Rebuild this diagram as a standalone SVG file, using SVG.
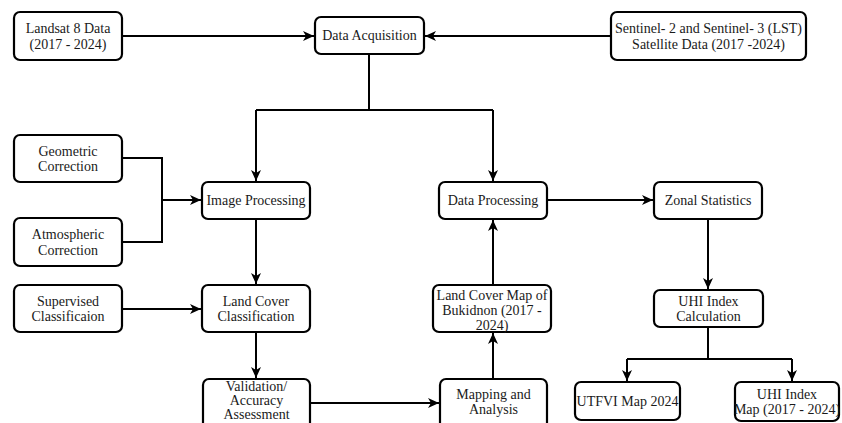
<svg xmlns="http://www.w3.org/2000/svg" width="842" height="423" viewBox="0 0 842 423">
<style>
.box{fill:#fff;stroke:#000;stroke-width:2.2}
.t{font-family:"Liberation Serif","Times New Roman",serif;font-size:14px;fill:#1a1a1a;text-anchor:middle}
.c{fill:none;stroke:#000;stroke-width:2}
</style>
<defs>
<marker id="ah" markerUnits="userSpaceOnUse" markerWidth="12" markerHeight="10" refX="11" refY="5" orient="auto">
<path d="M0,0 L11,5 L0,10 L3,5 z" fill="#000"/>
</marker>
</defs>
<rect width="842" height="423" fill="#fff"/>
<g id="connectors">
<path class="c" d="M122,36 H314" marker-end="url(#ah)"/>
<path class="c" d="M611,36 H425" marker-end="url(#ah)"/>
<path class="c" d="M369,54 V110"/>
<path class="c" d="M256,110 H493"/>
<path class="c" d="M256,110 V181" marker-end="url(#ah)"/>
<path class="c" d="M493,110 V181" marker-end="url(#ah)"/>
<path class="c" d="M122,158 H162 V242 H122"/>
<path class="c" d="M162,200 H201" marker-end="url(#ah)"/>
<path class="c" d="M256,219 V284" marker-end="url(#ah)"/>
<path class="c" d="M122,309 H201" marker-end="url(#ah)"/>
<path class="c" d="M256,332 V378" marker-end="url(#ah)"/>
<path class="c" d="M310,403 H439" marker-end="url(#ah)"/>
<path class="c" d="M493,379 V333" marker-end="url(#ah)"/>
<path class="c" d="M493,285 V220" marker-end="url(#ah)"/>
<path class="c" d="M547,200 H653" marker-end="url(#ah)"/>
<path class="c" d="M708,219 V289" marker-end="url(#ah)"/>
<path class="c" d="M708,327 V359"/>
<path class="c" d="M627,359 H792"/>
<path class="c" d="M627,359 V381" marker-end="url(#ah)"/>
<path class="c" d="M792,359 V381" marker-end="url(#ah)"/>
</g>
<g id="landsat">
<rect class="box" x="14" y="12" width="108" height="48" rx="6"/>
<text class="t" x="68" y="33">Landsat 8 Data</text>
<text class="t" x="68" y="49">(2017 - 2024)</text>
</g>
<g id="data-acquisition">
<rect class="box" x="315" y="17" width="109" height="37" rx="6"/>
<text class="t" x="369.5" y="40">Data Acquisition</text>
</g>
<g id="sentinel">
<rect class="box" x="611" y="12" width="195" height="48" rx="6"/>
<text class="t" x="708.5" y="33">Sentinel- 2 and Sentinel- 3 (LST)</text>
<text class="t" x="708.5" y="49">Satellite Data (2017 -2024)</text>
</g>
<g id="geometric">
<rect class="box" x="14" y="135" width="108" height="47" rx="6"/>
<text class="t" x="68" y="156">Geometric</text>
<text class="t" x="68" y="171">Correction</text>
</g>
<g id="atmospheric">
<rect class="box" x="14" y="218" width="108" height="48" rx="6"/>
<text class="t" x="68" y="239">Atmospheric</text>
<text class="t" x="68" y="255">Correction</text>
</g>
<g id="image-processing">
<rect class="box" x="202" y="182" width="108" height="37" rx="6"/>
<text class="t" x="256" y="205">Image Processing</text>
</g>
<g id="data-processing">
<rect class="box" x="439" y="182" width="108" height="37" rx="6"/>
<text class="t" x="493" y="205">Data Processing</text>
</g>
<g id="zonal-statistics">
<rect class="box" x="654" y="182" width="108" height="37" rx="6"/>
<text class="t" x="708" y="205">Zonal Statistics</text>
</g>
<g id="supervised">
<rect class="box" x="14" y="285" width="108" height="47" rx="6"/>
<text class="t" x="68" y="306">Supervised</text>
<text class="t" x="68" y="321">Classificaion</text>
</g>
<g id="land-cover-classification">
<rect class="box" x="202" y="285" width="108" height="47" rx="6"/>
<text class="t" x="256" y="306">Land Cover</text>
<text class="t" x="256" y="321">Classification</text>
</g>
<g id="land-cover-map">
<rect class="box" x="433" y="285" width="118" height="47" rx="6"/>
<text class="t" x="492" y="300">Land Cover Map of</text>
<text class="t" x="492" y="315">Bukidnon (2017 -</text>
<text class="t" x="492" y="330">2024)</text>
</g>
<g id="uhi-calculation">
<rect class="box" x="654" y="290" width="109" height="37" rx="6"/>
<text class="t" x="708.5" y="306">UHI Index</text>
<text class="t" x="708.5" y="321">Calculation</text>
</g>
<g id="validation">
<rect class="box" x="203" y="379" width="107" height="50" rx="6"/>
<text class="t" x="256.5" y="391">Validation/</text>
<text class="t" x="256.5" y="405">Accuracy</text>
<text class="t" x="256.5" y="419">Assessment</text>
</g>
<g id="mapping-analysis">
<rect class="box" x="440" y="379" width="107" height="50" rx="6"/>
<text class="t" x="493.5" y="399">Mapping and</text>
<text class="t" x="493.5" y="414">Analysis</text>
</g>
<g id="utfvi-map">
<rect class="box" x="575" y="382" width="105" height="38" rx="6"/>
<text class="t" x="627.5" y="406">UTFVI Map 2024</text>
</g>
<g id="uhi-map">
<rect class="box" x="735" y="382" width="104" height="39" rx="6"/>
<text class="t" x="787" y="399">UHI Index</text>
<text class="t" x="787" y="414">Map (2017 - 2024)</text>
</g>
</svg>
